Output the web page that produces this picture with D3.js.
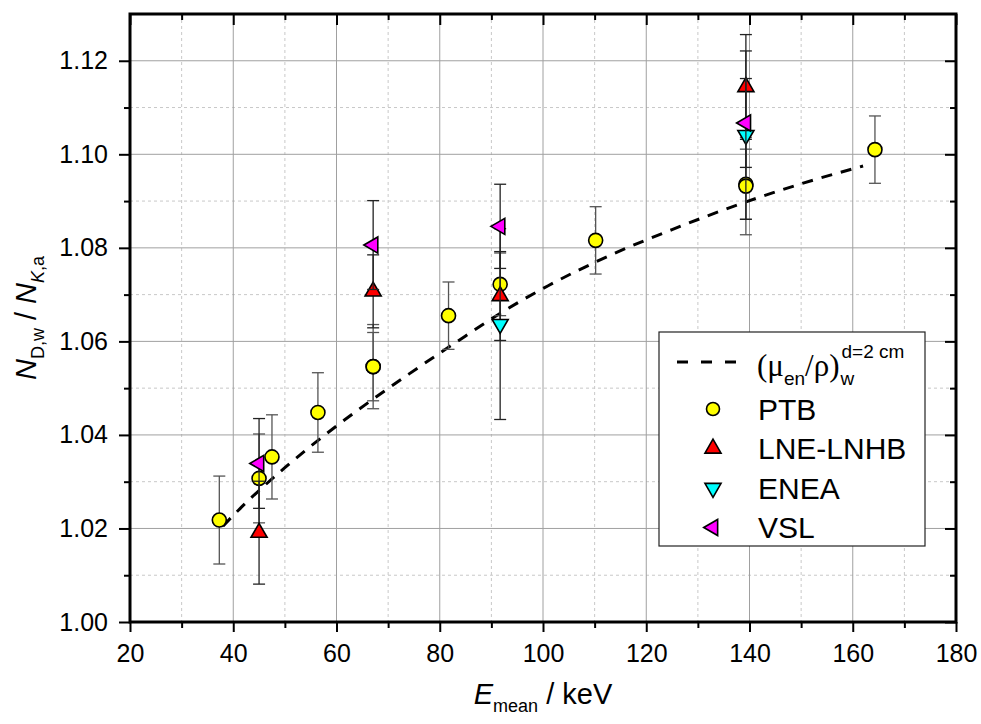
<!DOCTYPE html>
<meta charset="utf-8">
<script src="https://d3js.org/d3.v7.min.js"></script>
<style>
    body { margin: 0; background: #fff; }
    svg { font-family: Arial, "Liberation Sans", sans-serif; }
</style>
<body>
<script>

    // tick values
    var xMajor = [20, 40, 60, 80, 100, 120, 140, 160, 180];
    var xMinor = [30, 50, 70, 90, 110, 130, 150, 170];
    var yMajor = [1.00, 1.02, 1.04, 1.06, 1.08, 1.10, 1.12];
    var yMinor = [1.01, 1.03, 1.05, 1.07, 1.09, 1.11];

    // PTB
    var ptbE   = [37.3, 45.0, 47.5, 56.4, 67.1, 67.1, 81.7, 91.7, 110.2, 139.3, 139.3, 164.3];
    var ptbV   = [1.0218, 1.0307, 1.0353, 1.0448, 1.0546, 1.0546, 1.0655, 1.0722, 1.0816, 1.0936, 1.0932, 1.1010];
    var ptbErr = [0.0094, 0.0095, 0.0090, 0.0085, 0.0090, 0.0073, 0.0072, 0.0067, 0.0072, 0.0075, 0.0104, 0.0072];

    // LNE-LNHB
    var lneE   = [45.0, 67.1, 91.7, 139.3];
    var lneV   = [1.0191, 1.0707, 1.0697, 1.1144];
    var lneErr = [0.0110, 0.0078, 0.0095, 0.0112];

    // ENEA
    var eneaE   = [91.7, 139.3];
    var eneaV   = [1.0637, 1.1041];
    var eneaErr = [0.0204, 0.0180];

    // VSL
    var vslE   = [45.0, 67.1, 91.7, 139.3];
    var vslV   = [1.0339, 1.0806, 1.0846, 1.1067];
    var vslErr = [0.0096, 0.0095, 0.0090, 0.0095];

    // (mu_en/rho)_w curve, d = 2 cm
    var curveE = [38, 41, 50, 58, 66, 74, 83, 92, 101, 113, 125, 139, 150, 162];
    var curveV = [1.0205, 1.0239, 1.0330, 1.0402, 1.0468, 1.0530, 1.0597, 1.0662, 1.0719, 1.0784, 1.0839, 1.0897, 1.0937, 1.0975];

    var W = 981, H = 724;
    var plotL = 130, plotR = 956, plotT = 14, plotB = 622;

    var svg = d3.select("body").append("svg")
        .attr("width", W)
        .attr("height", H);

    var x = d3.scaleLinear().domain([20, 180]).range([plotL, plotR]);
    var y = d3.scaleLinear().domain([1.00, 1.13]).range([plotB, plotT]);

    // grid: minor dashed, major solid
    var grid = svg.append("g");
    grid.selectAll(".gxm").data(xMinor).enter().append("line")
        .attr("x1", d => x(d)).attr("x2", d => x(d))
        .attr("y1", plotT).attr("y2", plotB)
        .attr("stroke", "#c8c8c8").attr("stroke-dasharray", "3,3");
    grid.selectAll(".gym").data(yMinor).enter().append("line")
        .attr("x1", plotL).attr("x2", plotR)
        .attr("y1", d => y(d)).attr("y2", d => y(d))
        .attr("stroke", "#c8c8c8").attr("stroke-dasharray", "3,3");
    grid.selectAll(".gx").data(xMajor.slice(1, -1)).enter().append("line")
        .attr("x1", d => x(d)).attr("x2", d => x(d))
        .attr("y1", plotT).attr("y2", plotB)
        .attr("stroke", "#a0a0a0");
    grid.selectAll(".gy").data(yMajor.slice(1)).enter().append("line")
        .attr("x1", plotL).attr("x2", plotR)
        .attr("y1", d => y(d)).attr("y2", d => y(d))
        .attr("stroke", "#a0a0a0");

    // curve
    var line = d3.line()
        .x(function (d, i) { return x(curveE[i]); })
        .y(function (d, i) { return y(curveV[i]); })
        .curve(d3.curveMonotoneX);
    svg.append("path")
        .datum(curveV)
        .attr("d", line)
        .attr("fill", "none")
        .attr("stroke", "#000")
        .attr("stroke-width", 3)
        .attr("stroke-dasharray", "11,9");

    // series: error bars then symbols
    var tri = d3.symbol().type(d3.symbolTriangle).size(112);

    function drawSeries(E, V, Err, barColor, shape, fill) {
        var rows = E.map(function (e, i) { return { e: e, v: V[i], err: Err[i] }; });
        var g = svg.append("g");
        var bars = g.selectAll(".bar").data(rows).enter().append("g")
            .attr("stroke", barColor).attr("stroke-width", 1.3);
        bars.append("line")
            .attr("x1", d => x(d.e)).attr("x2", d => x(d.e))
            .attr("y1", d => y(d.v - d.err)).attr("y2", d => y(d.v + d.err));
        bars.append("line")
            .attr("x1", d => x(d.e) - 6).attr("x2", d => x(d.e) + 6)
            .attr("y1", d => y(d.v - d.err)).attr("y2", d => y(d.v - d.err));
        bars.append("line")
            .attr("x1", d => x(d.e) - 6).attr("x2", d => x(d.e) + 6)
            .attr("y1", d => y(d.v + d.err)).attr("y2", d => y(d.v + d.err));

        if (shape === "circle") {
            g.selectAll(".pt").data(rows).enter().append("circle")
                .attr("cx", d => x(d.e)).attr("cy", d => y(d.v)).attr("r", 7)
                .attr("fill", fill).attr("stroke", "#000").attr("stroke-width", 1.6);
        } else {
            var rot = shape === "up" ? 0 : (shape === "down" ? 180 : -90);
            g.selectAll(".pt").data(rows).enter().append("path")
                .attr("d", tri)
                .attr("transform", d => "translate(" + x(d.e) + "," + y(d.v) + ") rotate(" + rot + ")")
                .attr("fill", fill).attr("stroke", "#000").attr("stroke-width", 1.6)
                .attr("stroke-linejoin", "miter");
        }
    }

    drawSeries(ptbE, ptbV, ptbErr, "#555", "circle", "#ffff00");
    drawSeries(lneE, lneV, lneErr, "#222", "up", "#ff0000");
    drawSeries(eneaE, eneaV, eneaErr, "#222", "down", "#00ffff");
    drawSeries(vslE, vslV, vslErr, "#222", "left", "#ff00ff");

    // axes
    function styleAxis(g) {
        g.select(".domain").remove();
        g.selectAll(".tick line").attr("stroke", "#000").attr("stroke-width", 2);
        g.selectAll(".tick text").attr("font-size", 25).attr("fill", "#000")
            .attr("font-family", "Arial, 'Liberation Sans', sans-serif");
    }

    svg.append("g").attr("transform", "translate(0," + plotB + ")")
        .call(d3.axisBottom(x).tickValues(xMajor).tickSize(10).tickPadding(12).tickFormat(d3.format("d")))
        .call(styleAxis);
    svg.append("g").attr("transform", "translate(0," + plotB + ")")
        .call(d3.axisBottom(x).tickValues(xMinor).tickSize(6).tickFormat(""))
        .call(styleAxis);
    svg.append("g").attr("transform", "translate(" + plotL + ",0)")
        .call(d3.axisLeft(y).tickValues(yMajor).tickSize(11).tickPadding(11).tickFormat(d3.format(".2f")))
        .call(styleAxis);
    svg.append("g").attr("transform", "translate(" + plotL + ",0)")
        .call(d3.axisLeft(y).tickValues(yMinor).tickSize(6).tickFormat(""))
        .call(styleAxis);
    // right and top: ticks inside
    svg.append("g").attr("transform", "translate(" + plotR + ",0)")
        .call(d3.axisLeft(y).tickValues(yMajor).tickSize(11).tickFormat(""))
        .call(styleAxis);
    svg.append("g").attr("transform", "translate(" + plotR + ",0)")
        .call(d3.axisLeft(y).tickValues(yMinor).tickSize(6).tickFormat(""))
        .call(styleAxis);
    svg.append("g").attr("transform", "translate(0," + plotT + ")")
        .call(d3.axisBottom(x).tickValues(xMajor).tickSize(11).tickFormat(""))
        .call(styleAxis);
    svg.append("g").attr("transform", "translate(0," + plotT + ")")
        .call(d3.axisBottom(x).tickValues(xMinor).tickSize(6).tickFormat(""))
        .call(styleAxis);

    // frame
    svg.append("rect")
        .attr("x", plotL).attr("y", plotT)
        .attr("width", plotR - plotL).attr("height", plotB - plotT)
        .attr("fill", "none").attr("stroke", "#000").attr("stroke-width", 3);

    // axis titles
    var xt = svg.append("text")
        .attr("x", (plotL + plotR) / 2).attr("y", 704)
        .attr("text-anchor", "middle").attr("font-size", 29);
    xt.append("tspan").attr("font-style", "italic").text("E");
    xt.append("tspan").attr("font-size", 18).attr("dy", 8).text("mean");
    xt.append("tspan").attr("dy", -8).text(" / keV");

    var yt = svg.append("text")
        .attr("transform", "translate(36," + ((plotT + plotB) / 2) + ") rotate(-90)")
        .attr("text-anchor", "middle").attr("font-size", 29);
    yt.append("tspan").attr("font-style", "italic").text("N");
    yt.append("tspan").attr("font-size", 18).attr("dy", 8).text("D,w");
    yt.append("tspan").attr("dy", -8).text(" / ");
    yt.append("tspan").attr("font-style", "italic").text("N");
    yt.append("tspan").attr("font-size", 18).attr("dy", 8).attr("font-style", "italic").text("K");
    yt.append("tspan").attr("font-size", 18).text(",a");

    // legend
    var lg = svg.append("g");
    lg.append("rect")
        .attr("x", 659).attr("y", 332).attr("width", 266).attr("height", 214)
        .attr("fill", "#fff").attr("stroke", "#222").attr("stroke-width", 1.2);

    lg.append("line")
        .attr("x1", 677).attr("x2", 742).attr("y1", 362).attr("y2", 362)
        .attr("stroke", "#000").attr("stroke-width", 3).attr("stroke-dasharray", "11,13");

    var f1 = lg.append("text").attr("x", 757).attr("y", 376).attr("font-size", 31)
        .attr("font-family", "'Liberation Serif', 'Times New Roman', serif");
    f1.append("tspan").text("(\u03bc");
    f1.append("tspan").attr("font-size", 19).attr("dy", 9)
        .attr("font-family", "Arial, 'Liberation Sans', sans-serif").text("en");
    f1.append("tspan").attr("dy", -9).text("/\u03c1)");
    var bb = f1.node().getBBox();
    var wx = bb.x + bb.width + 1;
    lg.append("text").attr("x", wx).attr("y", 385).attr("font-size", 19).text("w");
    lg.append("text").attr("x", wx + 1).attr("y", 358).attr("font-size", 19).text("d=2 cm");

    var legRows = [
        { label: "PTB", shape: "circle", fill: "#ffff00", cy: 409 },
        { label: "LNE-LNHB", shape: "up", fill: "#ff0000", cy: 448.5 },
        { label: "ENEA", shape: "down", fill: "#00ffff", cy: 488 },
        { label: "VSL", shape: "left", fill: "#ff00ff", cy: 527.5 }
    ];
    legRows.forEach(function (r) {
        if (r.shape === "circle") {
            lg.append("circle").attr("cx", 713).attr("cy", r.cy).attr("r", 6.5)
                .attr("fill", r.fill).attr("stroke", "#000").attr("stroke-width", 1.6);
        } else {
            var rot = r.shape === "up" ? 0 : (r.shape === "down" ? 180 : -90);
            lg.append("path").attr("d", tri)
                .attr("transform", "translate(713," + r.cy + ") rotate(" + rot + ")")
                .attr("fill", r.fill).attr("stroke", "#000").attr("stroke-width", 1.6);
        }
        lg.append("text").attr("x", 758).attr("y", r.cy + 10.5)
            .attr("font-size", 30).text(r.label);
    });

</script>
</body>
